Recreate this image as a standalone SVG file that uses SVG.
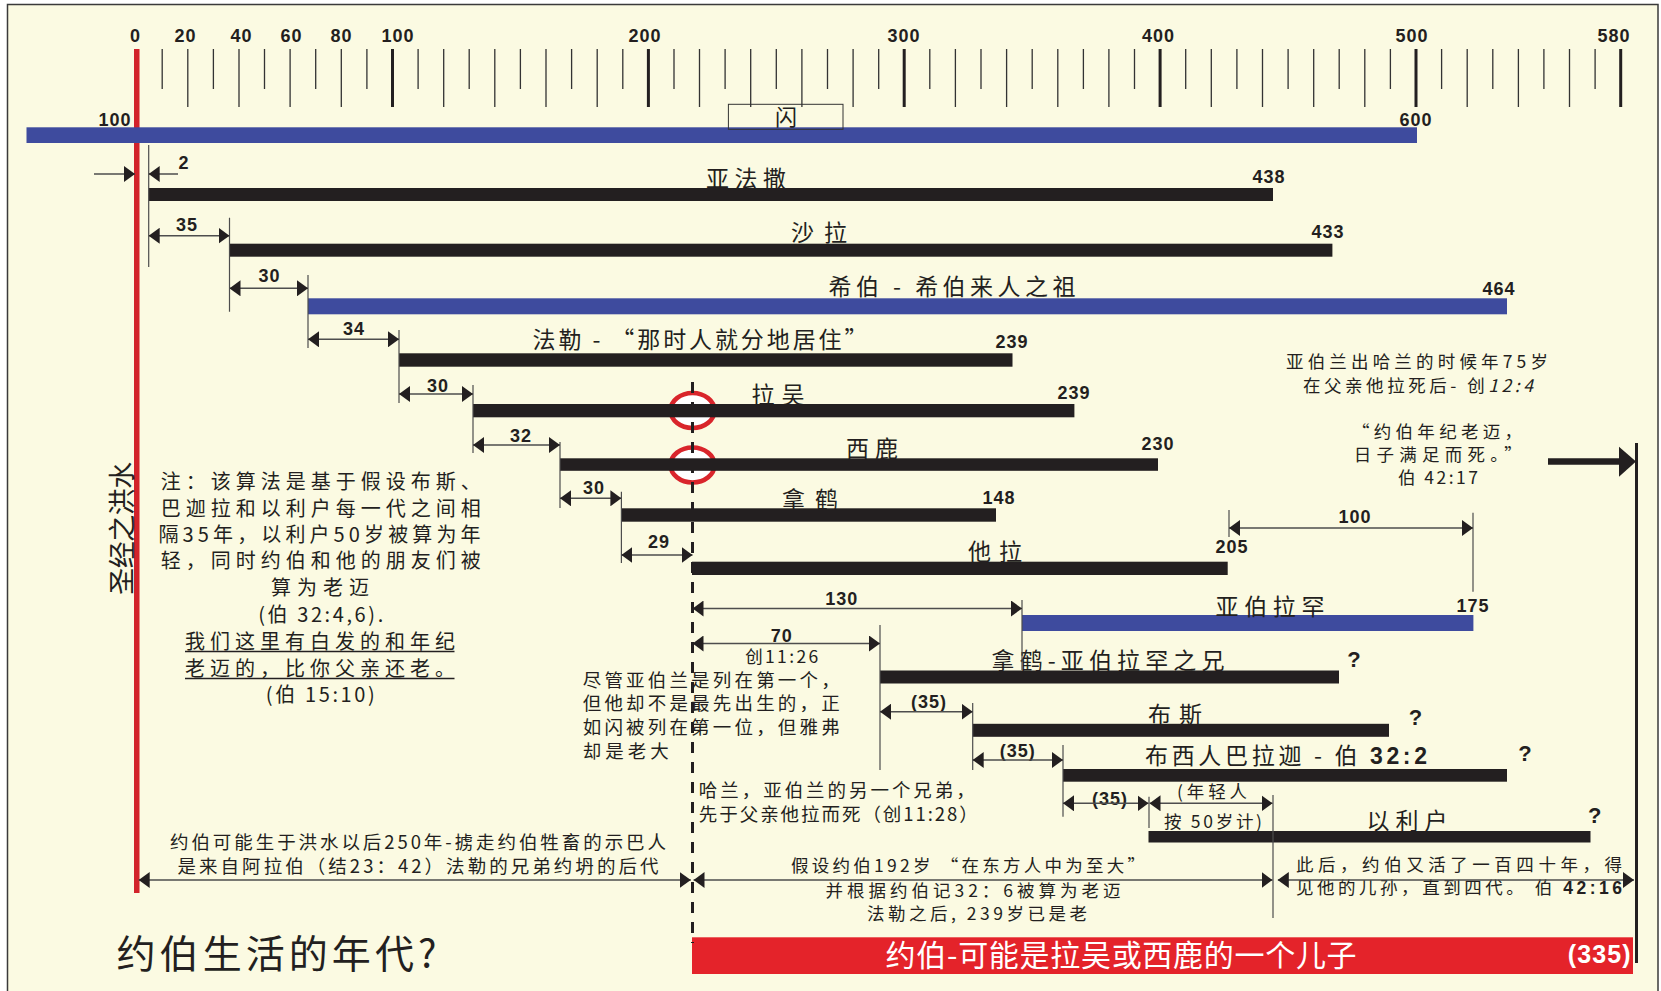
<svg xmlns="http://www.w3.org/2000/svg" width="1661" height="991" viewBox="0 0 1661 991">
<defs>
<marker id="ah" viewBox="0 0 11 16" refX="11" refY="8" markerWidth="11" markerHeight="16" markerUnits="userSpaceOnUse" orient="auto-start-reverse"><path d="M0,0L11,8L0,16z" fill="#231f20"/></marker>
<style>
text{font-family:"Noto Sans CJK SC","Noto Sans",sans-serif;fill:#231f20}
.n{font-family:"Liberation Sans",Arial,sans-serif;font-weight:bold;font-size:18px;letter-spacing:1px;text-anchor:middle}
.nb{font-family:"Liberation Sans",Arial,sans-serif;font-weight:bold}
.q{font-family:"Liberation Sans",Arial,sans-serif;font-weight:bold;font-size:22px;text-anchor:middle}
.l{font-size:23px;text-anchor:middle}
.s{font-size:17.5px}
.s2{font-size:17.5px}
.t{font-size:18.5px}
.nt{font-size:20px}
.m{text-anchor:middle}
.bk{fill:#231f20}
.bl{fill:#3e4b9e}
.g{stroke:#4d4d4d;stroke-width:1.2;fill:none}
.d{stroke:#4d4d4d;stroke-width:1.5;fill:none;marker-start:url(#ah);marker-end:url(#ah)}
.e{stroke:#4d4d4d;stroke-width:1.5;fill:none;marker-end:url(#ah)}
.ring{fill:#fff;stroke:#d9252b;stroke-width:4.5}
.w{fill:#fff}
</style>
</defs>
<rect x="0" y="0" width="1661" height="991" fill="#fff"/>
<rect x="7.5" y="4.5" width="1650.5" height="1000" fill="#fbfae2" stroke="#3a3a3a" stroke-width="1.5"/>

<g id="axis">
<path stroke="#333" stroke-width="1.3" fill="none" d="M162.2 49V89M213.4 49V89M264.5 49V89M315.7 49V89M366.9 49V89M418.1 49V89M469.2 49V89M520.4 49V89M571.6 49V89M622.8 49V89M674 49V89M725.1 49V89M776.3 49V89M827.5 49V89M878.7 49V89M929.8 49V89M981 49V89M1032.2 49V89M1083.4 49V89M1134.5 49V89M1185.7 49V89M1236.9 49V89M1288.1 49V89M1339.2 49V89M1390.4 49V89M1441.6 49V89M1492.8 49V89M1543.9 49V89M1595.1 49V89"/>
<path stroke="#333" stroke-width="1.3" fill="none" d="M187.8 49V107M239 49V107M290.1 49V107M341.3 49V107M443.7 49V107M494.8 49V107M546 49V107M597.2 49V107M699.5 49V107M750.7 49V107M801.9 49V107M853.1 49V107M955.4 49V107M1006.6 49V107M1057.8 49V107M1108.9 49V107M1211.3 49V107M1262.5 49V107M1313.7 49V107M1364.8 49V107M1467.2 49V107M1518.4 49V107M1569.5 49V107"/>
<path stroke="#231f20" stroke-width="3" fill="none" d="M392.5 49V107M648.4 49V107M904.2 49V107M1160.1 49V107M1416 49V107M1620.7 49V107"/>
<text class="n" x="135.5" y="41.5">0</text>
<text class="n" x="185.5" y="41.5">20</text>
<text class="n" x="241.5" y="41.5">40</text>
<text class="n" x="291.5" y="41.5">60</text>
<text class="n" x="341.5" y="41.5">80</text>
<text class="n" x="398" y="41.5">100</text>
<text class="n" x="645" y="41.5">200</text>
<text class="n" x="904" y="41.5">300</text>
<text class="n" x="1158.5" y="41.5">400</text>
<text class="n" x="1412" y="41.5">500</text>
<text class="n" x="1614" y="41.5">580</text>
</g>

<g id="flood">
<rect x="134" y="49" width="5.5" height="844" fill="#d2232a"/>
<text class="m" font-size="27" textLength="133" dominant-baseline="central" transform="translate(120.5,528.3) rotate(-90)">圣经之洪水</text>
</g>

<g id="shem">
<rect class="bl" x="26.5" y="127.3" width="1390.5" height="15.7"/>
<rect x="728.4" y="104.3" width="114.6" height="25" fill="none" stroke="#333" stroke-width="1"/>
<text class="m" font-size="22" x="786" y="124.5">闪</text>
<text class="n" x="115" y="126">100</text>
<text class="n" x="1416" y="126">600</text>
</g>

<g id="rings">
<ellipse class="ring" cx="692.5" cy="410.5" rx="22" ry="17.5"/>
<ellipse class="ring" cx="692.5" cy="465" rx="22" ry="17.5"/>
</g>

<g id="arphaxad"><rect class="bk" x="148.7" y="188" width="1124.3" height="13"/><text class="l" x="746" y="187" textLength="80">亚法撒</text><text class="n" x="1269" y="183">438</text></g>
<g id="shelah"><rect class="bk" x="229.5" y="243.7" width="1102.9" height="13"/><text class="l" x="819" y="241" textLength="56">沙拉</text><text class="n" x="1328" y="238">433</text></g>
<g id="eber"><rect class="bl" x="308" y="298.3" width="1199" height="16"/><text class="l" x="952" y="295" textLength="247">希伯 - 希伯来人之祖</text><text class="n" x="1499" y="295">464</text></g>
<g id="peleg"><rect class="bk" x="399" y="353.3" width="613.5" height="13.4"/><text class="l" x="700" y="348" textLength="335">法勒 - “那时人就分地居住”</text><text class="n" x="1012" y="348">239</text></g>
<g id="reu"><rect class="bk" x="473" y="404" width="601.4" height="13.3"/><text class="l" x="778" y="403" textLength="53">拉吴</text><text class="n" x="1074" y="399">239</text></g>
<g id="serug"><rect class="bk" x="560" y="458.3" width="598" height="12.5"/><text class="l" x="872" y="457" textLength="52">西鹿</text><text class="n" x="1158" y="450">230</text></g>
<g id="nahor"><rect class="bk" x="621.4" y="508.3" width="374.6" height="13.4"/><text class="l" x="810" y="507.5" textLength="56">拿鹤</text><text class="n" x="999" y="504">148</text></g>
<g id="terah"><rect class="bk" x="692" y="561.7" width="535.7" height="13.3"/><text class="l" x="995" y="560" textLength="54">他拉</text><text class="n" x="1232" y="552.7">205</text></g>
<g id="abram"><rect class="bl" x="1022" y="615" width="451.4" height="16"/><text class="l" x="1270" y="615" textLength="109">亚伯拉罕</text><text class="n" x="1473" y="611.7">175</text></g>
<g id="nahor2"><rect class="bk" x="880" y="670.5" width="459" height="13"/><text class="l" x="1108" y="669" textLength="233">拿鹤-亚伯拉罕之兄</text><text class="q" x="1354" y="667">?</text></g>
<g id="buz"><rect class="bk" x="972.7" y="723.8" width="416.3" height="13"/><text class="l" x="1175" y="722.5" textLength="54">布斯</text><text class="q" x="1415.6" y="725">?</text></g>
<g id="barachel"><rect class="bk" x="1063" y="769" width="444" height="12.7"/><text class="l" x="1286" y="764" textLength="282">布西人巴拉迦 - 伯 <tspan class="nb">32:2</tspan></text><text class="q" x="1525" y="760.7">?</text></g>
<g id="elihu"><rect class="bk" x="1148.5" y="831" width="442" height="11.5"/><text class="l" x="1407" y="829" textLength="81">以利户</text><text class="q" x="1594.7" y="822.7">?</text></g>
<g id="job"><rect x="692" y="937.3" width="941" height="36.7" fill="#e4232a"/><text class="w" x="885.6" y="966" font-size="30" textLength="471">约伯-可能是拉吴或西鹿的一个儿子</text><text class="nb w" x="1567.7" y="963" font-size="25" textLength="63">(335)</text></g>

<g id="notes">
<text class="nt" x="160.7" y="489.3" textLength="320">注：该算法是基于假设布斯、</text>
<text class="nt" x="160.7" y="516" textLength="320">巴迦拉和以利户每一代之间相</text>
<text class="nt" x="158.5" y="541.7" textLength="322">隔35年，以利户50岁被算为年</text>
<text class="nt" x="160.7" y="568.3" textLength="320">轻，同时约伯和他的朋友们被</text>
<text class="nt m" x="320" y="595" textLength="98">算为老迈</text>
<text class="nt m" x="320.7" y="621.7" textLength="125">(伯 32:4,6).</text>
<text class="nt" x="185" y="649" textLength="270">我们这里有白发的和年纪</text>
<text class="nt" x="185" y="675.7" textLength="270">老迈的，比你父亲还老。</text>
<path d="M185 651.5H454.5M185 678.5H454.5" stroke="#231f20" stroke-width="1.3"/>
<text class="nt m" x="320.3" y="701.7" textLength="109">(伯 15:10)</text>

<text class="t" x="582.7" y="686.7" textLength="257">尽管亚伯兰是列在第一个，</text>
<text class="t" x="582.7" y="710" textLength="257">但他却不是最先出生的，正</text>
<text class="t" x="582.7" y="734" textLength="257">如闪被列在第一位，但雅弗</text>
<text class="t" x="582.7" y="758" textLength="86">却是老大</text>

<text class="t" x="698.8" y="796.7" textLength="276">哈兰，亚伯兰的另一个兄弟，</text>
<text class="t" x="698.8" y="820.5" textLength="279">先于父亲他拉而死（创11:28）</text>

<text class="s m" x="781.7" y="663.3" textLength="73">创11:26</text>
<text class="s2 m" x="1212" y="797.7" textLength="70">(年轻人</text>
<text class="s2 m" x="1213" y="828" textLength="98">按 50岁计)</text>

<text class="s m" x="1417" y="368.3" textLength="262">亚伯兰出哈兰的时候年75岁</text>
<text class="s m" x="1418" y="391.7" textLength="230">在父亲他拉死后- 创<tspan font-style="italic">12:4</tspan></text>
<text class="s" x="1352" y="438.3" textLength="170">“约伯年纪老迈，</text>
<text class="s" x="1353.7" y="460.7" textLength="168">日子满足而死。”</text>
<text class="s" x="1398" y="484" textLength="80">伯 42:17</text>

<text class="t m" x="418" y="849.3" textLength="496">约伯可能生于洪水以后250年-掳走约伯牲畜的示巴人</text>
<text class="t m" x="418" y="873.3" textLength="481">是来自阿拉伯（结23：42）法勒的兄弟约坍的后代</text>
<text class="s m" x="968" y="871.7" textLength="354">假设约伯192岁  “在东方人中为至大”</text>
<text class="s m" x="973" y="896.7" textLength="295">并根据约伯记32：6被算为老迈</text>
<text class="s m" x="977" y="920" textLength="220">法勒之后, 239岁已是老</text>
<text class="s2" x="1296" y="871" textLength="326">此后，约伯又活了一百四十年，得</text>
<text class="s2" x="1296" y="894" textLength="326">见他的儿孙，直到四代。 伯 <tspan class="nb">42:16</tspan></text>

<text x="116.5" y="968.3" font-size="39" textLength="320">约伯生活的年代?</text>
</g>

<g id="dim-labels">
<text class="n" x="184" y="169.3">2</text>
<text class="n" x="187" y="231">35</text>
<text class="n" x="269.6" y="281.7">30</text>
<text class="n" x="354" y="335">34</text>
<text class="n" x="438" y="391.7">30</text>
<text class="n" x="521" y="441.7">32</text>
<text class="n" x="594" y="494">30</text>
<text class="n" x="659" y="548.3">29</text>
<text class="n" x="1355" y="523">100</text>
<text class="n" x="841.7" y="605">130</text>
<text class="n" x="781.7" y="641.7">70</text>
<text class="n" x="929" y="708">(35)</text>
<text class="n" x="1017.7" y="756.7">(35)</text>
<text class="n" x="1110" y="805">(35)</text>
</g>

<g id="connectors">
<path class="g" d="M148.7 145V267M229.5 217.7V311.7M308 275V348M399 330V403M473 385V453M560 442V508M621.4 491.7V563M1022 600V670M880 625V770M972.7 703V770M1063 745V816.7M1149 796.7V828M1273 795V918M1229 510V537M1473 512.7V591.7"/>
<path class="e" d="M94 174H135"/>
<path class="e" d="M178 174H148.7"/>
<path class="d" d="M148.7 235.7H229.5"/>
<path class="d" d="M229.5 288.3H308"/>
<path class="d" d="M308 339.3H399"/>
<path class="d" d="M399 394H473"/>
<path class="d" d="M473 445H560"/>
<path class="d" d="M560 498.3H621.4"/>
<path class="d" d="M621.4 555H692.5"/>
<path class="d" d="M1229 528H1473"/>
<path class="d" d="M692.5 608.5H1022"/>
<path class="d" d="M692.5 643.5H880"/>
<path class="d" d="M880 711.7H972.7"/>
<path class="d" d="M972.7 760H1063"/>
<path class="d" d="M1063 803.3H1148.5"/>
<path class="d" d="M1149.5 803.3H1272.5"/>
<path class="d" d="M138.7 880H690.8"/>
<path class="d" d="M693.5 880H1272.5"/>
<path class="d" d="M1277.8 880H1634"/>
<path d="M1636.5 443V963" stroke="#231f20" stroke-width="3" fill="none"/>
<path d="M1548 461.5H1621" stroke="#231f20" stroke-width="6.5" fill="none"/>
<path d="M1619 446.7L1636 461.5L1619 476.7z" fill="#231f20"/>
<path d="M692.5 382V943" stroke="#231f20" stroke-width="3" stroke-dasharray="11 9" fill="none"/>
</g>
</svg>
